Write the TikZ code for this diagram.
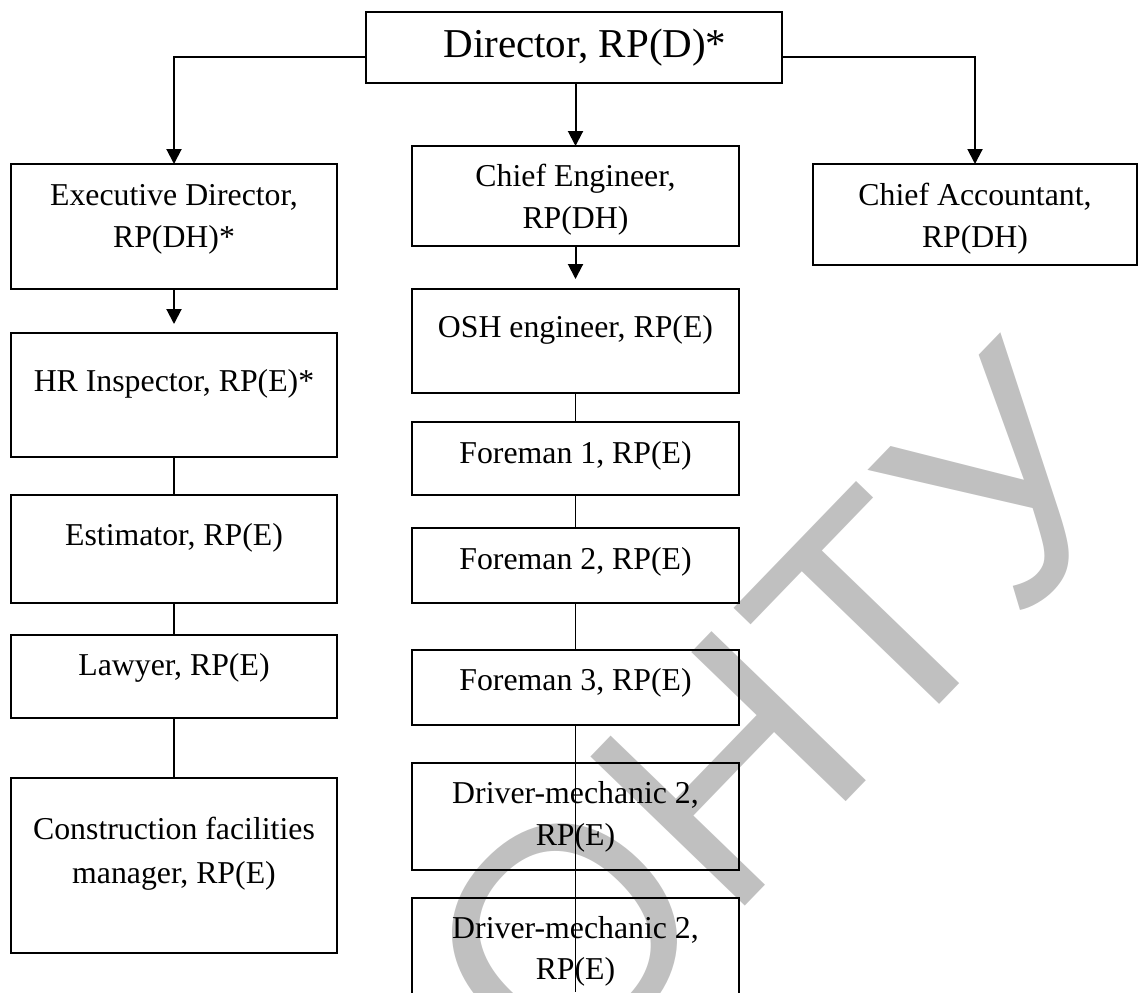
\documentclass[tikz,border=0pt]{standalone}
\usepackage{fontspec}
\setmainfont{Liberation Serif}
\newfontfamily\wmfont{Liberation Sans}
\usetikzlibrary{arrows.meta,calc}
\definecolor{wmgray}{RGB}{192,192,192}
\newcommand\orgbox[5]{\node[box, minimum width=#4*0.5pt, minimum height=#5*0.5pt] (#1) at (#2,#3) {};}
\begin{document}
\begin{tikzpicture}[x=0.5pt,y=-0.5pt,
  box/.style={draw, line width=1.1pt, inner sep=0pt, outer sep=0pt},
  txt/.style={anchor=base, inner sep=0pt, font=\fontsize{15.9pt}{19pt}\selectfont},
  bigtxt/.style={anchor=base, inner sep=0pt, font=\fontsize{20.5pt}{24pt}\selectfont},
  arr/.style={line width=1pt, -{Triangle[length=7.5pt, width=7.5pt]}},
  thin/.style={line width=0.65pt},
  wm/.style={inner sep=0pt, text=wmgray, font=\wmfont\fontsize{156pt}{156pt}\selectfont}]
\useasboundingbox (0,0) rectangle (1139,992);
\clip (0,0) rectangle (1139,992);
% watermark
\node[wm, rotate=46] (wmk) at (779,716) {ОНТУ};
% boxes
\orgbox{dir}{574}{47.5}{416}{71}
\orgbox{exe}{174}{226.5}{326}{125}
\orgbox{hr}{174}{395}{326}{124}
\orgbox{est}{174}{549}{326}{108}
\orgbox{law}{174}{676.5}{326}{83}
\orgbox{con}{174}{865.5}{326}{175}
\orgbox{ce}{575.5}{196}{327}{100}
\orgbox{osh}{575.5}{341}{327}{104}
\orgbox{fa}{575.5}{458.5}{327}{73}
\orgbox{fb}{575.5}{565.5}{327}{75}
\orgbox{fc}{575.5}{687.5}{327}{75}
\orgbox{da}{575.5}{816.5}{327}{107}
\orgbox{db}{575.5}{954}{327}{112}
\orgbox{ca}{975}{214.5}{324}{101}
% texts
\node[bigtxt] (tdir) at (585,57) {Director, RP(D)*};
\node[txt] (texe1) at (174,205) {Executive Director,};
\node[txt] (texe2) at (174,247) {RP(DH)*};
\node[txt] (thr) at (174,391) {HR Inspector, RP(E)*};
\node[txt] (test) at (174,545) {Estimator, RP(E)};
\node[txt] (tlaw) at (174,675) {Lawyer, RP(E)};
\node[txt] (tcon1) at (174,839) {Construction facilities};
\node[txt] (tcon2) at (174,883) {manager, RP(E)};
\node[txt] (tce1) at (575.5,186) {Chief Engineer,};
\node[txt] (tce2) at (575.5,228) {RP(DH)};
\node[txt] (tosh) at (575.5,337) {OSH engineer, RP(E)};
\node[txt] (tfa) at (575.5,463) {Foreman 1, RP(E)};
\node[txt] (tfb) at (575.5,569) {Foreman 2, RP(E)};
\node[txt] (tfc) at (575.5,690) {Foreman 3, RP(E)};
\node[txt] (tda1) at (575.5,803) {Driver-mechanic 2,};
\node[txt] (tda2) at (575.5,845) {RP(E)};
\node[txt] (tdb1) at (575.5,938) {Driver-mechanic 2,};
\node[txt] (tdb2) at (575.5,979) {RP(E)};
\node[txt] (tca1) at (975,205) {Chief Accountant,};
\node[txt] (tca2) at (975,247) {RP(DH)};
% connectors
\coordinate (bot) at (575.5,992);
\draw[arr] ($(dir.west)+(0,9.5)$) -| (exe.north);
\draw[arr] ($(dir.east)+(0,9.5)$) -| (ca.north);
\draw[arr] (dir.south -| ce.north) -- (ce.north);
\draw[arr, shorten >=4.5pt] (exe.south) -- (hr.north);
\draw[arr, shorten >=5pt] (ce.south) -- (osh.north);
\draw[thin] (hr.south) -- (est.north);
\draw[thin] (est.south) -- (law.north);
\draw[thin] (law.south) -- (con.north);
\draw[thin] (osh.south) -- (fa.north);
\draw[thin] (fa.south) -- (fb.north);
\draw[thin] (fb.south) -- (fc.north);
\draw[thin] (fc.south) -- (bot);
\end{tikzpicture}
\end{document}
